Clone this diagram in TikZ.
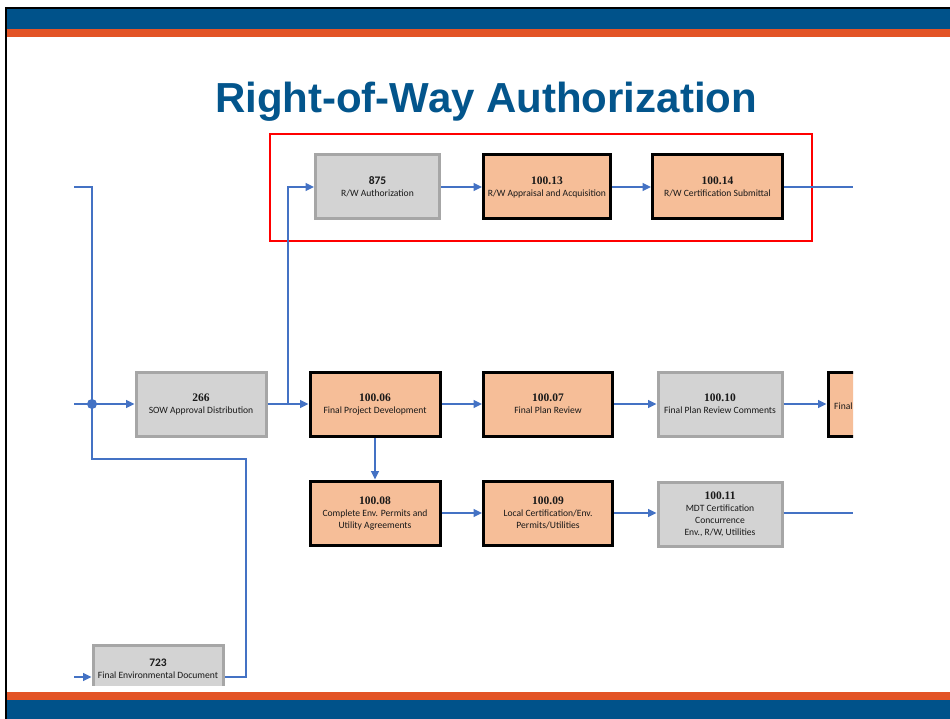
\documentclass[tikz,border=0pt]{standalone}
\usepackage{fontspec}
\setmainfont{Carlito}
\newfontfamily\numfont{Liberation Serif}
\newfontfamily\titlefont{Liberation Sans}
\usetikzlibrary{arrows.meta}

\definecolor{bandblue}{HTML}{00528A}
\definecolor{bandorange}{HTML}{E35426}
\definecolor{titleblue}{HTML}{03558C}
\definecolor{lineblue}{HTML}{4472C4}
\definecolor{grayfill}{HTML}{D3D3D3}
\definecolor{grayedge}{HTML}{A6A6A6}
\definecolor{orangefill}{HTML}{F6BE98}

\newcommand{\boxnum}[1]{{\fontsize{11.5}{13}\selectfont\numfont\bfseries #1}}
\newcommand{\boxnumsans}[1]{{\fontsize{11.5}{13}\selectfont\bfseries #1}}

\tikzset{
  taskbox/.style={rectangle, line width=3pt, minimum height=64pt, inner sep=0pt,
    align=center, text=black!90, font=\fontsize{9.6}{12}\selectfont},
  graybox/.style={taskbox, draw=grayedge, fill=grayfill},
  orangebox/.style={taskbox, draw=black, fill=orangefill},
  flow/.style={draw=lineblue, line width=1.4pt},
  arr/.style={flow, -{Triangle[length=8.5pt,width=8pt]}},
}

\begin{document}
\begin{tikzpicture}[x=1pt,y=-1pt]
\useasboundingbox (0,0) rectangle (950,719);
\fill[white] (0,0) rectangle (950,719);

% frame and colour bands
\fill[bandblue] (7,9) rectangle (950,29);
\fill[bandorange] (7,29) rectangle (950,37);
\fill[bandorange] (7,692) rectangle (950,700);
\fill[bandblue] (7,700) rectangle (950,719);
\draw[black, line width=2pt] (6,719) -- (6,8) -- (950,8);

% title
\node[font=\titlefont\bfseries\fontsize{42}{48}\selectfont, text=titleblue]
  (title) at (486,102) {Right-of-Way Authorization};

% highlighted group
\draw[red, line width=2pt] (270,134) rectangle (812,241);

% top row
\node[graybox, minimum width=124pt] (n875) at (377.5,187)
  {\boxnumsans{875}\\R/W Authorization};
\node[orangebox, minimum width=127pt] (n1013) at (547,187)
  {\boxnum{100.13}\\R/W Appraisal and Acquisition};
\node[orangebox, minimum width=130pt] (n1014) at (717.5,187)
  {\boxnum{100.14}\\R/W Certification Submittal};

% middle row
\node[graybox, minimum width=130pt] (n266) at (201,404)
  {\boxnum{266}\\SOW Approval Distribution};
\node[orangebox, minimum width=130pt] (n1006) at (375,404)
  {\boxnum{100.06}\\Final Project Development};
\node[orangebox, minimum width=129pt] (n1007) at (548,404)
  {\boxnum{100.07}\\Final Plan Review};
\node[graybox, minimum width=124pt] (n1010) at (720,404)
  {\boxnum{100.10}\\Final Plan Review Comments};
\begin{scope}
  \clip (0,0) rectangle (853,719);
  \node[orangebox, minimum width=130pt, anchor=west] (nfin) at (826.5,404) {};
  \node[font=\fontsize{9.6}{12}\selectfont, text=black!90, anchor=west, inner sep=0pt]
    (finlabel) at (834,406) {Final};
\end{scope}

% bottom row
\node[orangebox, minimum width=130pt] (n1008) at (375,513)
  {\boxnum{100.08}\\Complete Env. Permits and\\Utility Agreements};
\node[orangebox, minimum width=129pt] (n1009) at (548,513)
  {\boxnum{100.09}\\Local Certification/Env.\\Permits/Utilities};
\node[graybox, minimum width=124pt] (n1011) at (720,514)
  {\boxnum{100.11}\\MDT Certification\\Concurrence\\Env., R/W, Utilities};

% environmental document, cut by the lower band
\begin{scope}
  \clip (0,0) rectangle (950,685);
  \node[graybox, minimum width=130pt] (n723) at (158,677)
    {\boxnumsans{723}\\Final Environmental Document\\\strut};
\end{scope}

% loose ends
\coordinate (inTop) at (74,187);
\coordinate (inMid) at (74,404);
\coordinate (inLow) at (74,677);
\coordinate (split) at (92,404);
\coordinate (branch) at (288,404);
\coordinate (outTop) at (853,187);
\coordinate (outLow) at (853,513);

% connectors
\draw[flow] (inTop) -| (split) |- (246,459) |- (n723.east);
\fill[lineblue] (split) circle (5pt);
\draw[arr] (inMid) -- (n266.west);
\draw[arr] (inLow) -- (n723.west);
\draw[arr] (n266.east) -- (n1006.west);
\draw[arr] (branch) |- (n875.west);
\draw[arr] (n875.east) -- (n1013.west);
\draw[arr] (n1013.east) -- (n1014.west);
\draw[flow] (n1014.east) -- (outTop);
\draw[arr] (n1006.east) -- (n1007.west);
\draw[arr] (n1007.east) -- (n1010.west);
\draw[arr] (n1010.east) -- (nfin.west);
\draw[arr] (n1006.south) -- (n1008.north);
\draw[arr] (n1008.east) -- (n1009.west);
\draw[arr] (n1009.east) -- (n1011.west |- n1009.east);
\draw[flow] (n1011.east |- outLow) -- (outLow);
\end{tikzpicture}
\end{document}
